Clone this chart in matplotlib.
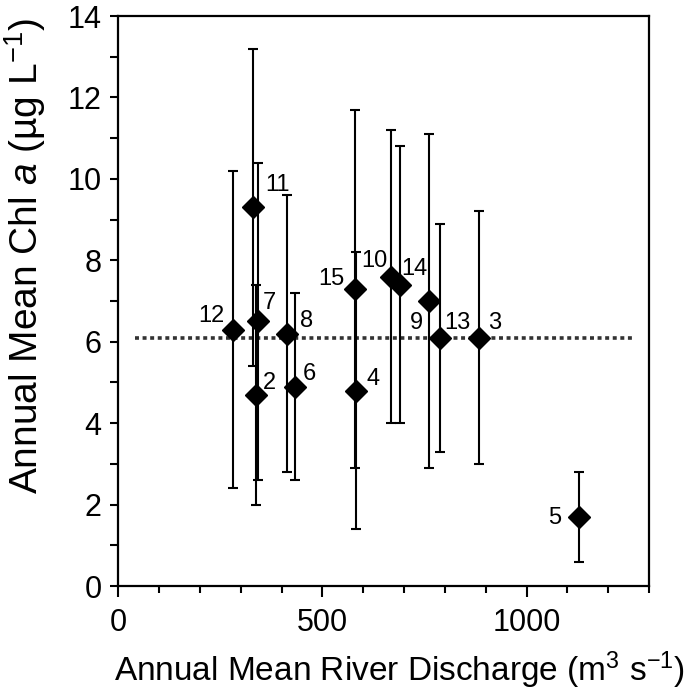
import matplotlib
matplotlib.use("Agg")
import matplotlib.pyplot as plt
from matplotlib.ticker import MultipleLocator

plt.rcParams['font.family'] = ['Liberation Sans', 'DejaVu Sans']
plt.rcParams['mathtext.fontset'] = 'custom'
plt.rcParams['mathtext.rm'] = 'Liberation Sans'
plt.rcParams['mathtext.it'] = 'Liberation Sans:italic'

# river number, discharge (m3/s), mean Chl a and its SD
sites = [2, 3, 4, 5, 6, 7, 8, 9, 10, 11, 12, 13, 14, 15]
discharge = [337, 883, 583, 1128, 432, 342, 413, 761, 669, 330, 281, 789, 689, 579]
chl_mean = [4.7, 6.1, 4.8, 1.7, 4.9, 6.5, 6.2, 7.0, 7.6, 9.3, 6.3, 6.1, 7.4, 7.3]
chl_sd = [2.7, 3.1, 3.4, 1.1, 2.3, 3.9, 3.4, 4.1, 3.6, 3.9, 3.9, 2.8, 3.4, 4.4]

overall_mean = 6.1
mean_line_x = [40, 1265]

# label placement: (dx px, dy px to baseline, ha)
label_pos = {
    2: (7, 6, 'left'), 3: (9, 9, 'left'), 4: (10, 6, 'left'),
    5: (-18, -7, 'right'), 6: (8, 7, 'left'), 7: (5, 12, 'left'),
    8: (13, 7, 'left'), 9: (-6, -28, 'right'), 10: (-4, 10, 'right'),
    11: (12, 16, 'left'), 12: (-9, 8, 'right'), 13: (4, 9, 'left'),
    14: (2, 10, 'left'), 15: (-10, 4, 'right'),
}

fig = plt.figure(figsize=(6.85, 6.94), dpi=100)
ax = fig.add_axes([0.1727, 0.1556, 0.7747, 0.8213])

ax.plot(mean_line_x, [overall_mean, overall_mean], color='#333333',
        linewidth=2.6, linestyle=(0, (1.1, 1.0)), dash_capstyle='butt', zorder=1)

ax.errorbar(discharge, chl_mean, yerr=chl_sd, fmt='none', ecolor='black',
            elinewidth=1.5, capsize=3.5, capthick=1.5, zorder=2)
ax.plot(discharge, chl_mean, linestyle='none', marker='D', markersize=11,
        color='black', zorder=3)

for s, x, y in zip(sites, discharge, chl_mean):
    dx, dy, ha = label_pos[s]
    ax.annotate(str(s), (x, y), xytext=(dx, dy), textcoords='offset pixels',
                ha=ha, va='baseline', fontsize=17)

ax.set_xlim(0, 1300)
ax.set_ylim(0, 14)
ax.xaxis.set_major_locator(MultipleLocator(500))
ax.xaxis.set_minor_locator(MultipleLocator(100))
ax.yaxis.set_major_locator(MultipleLocator(2))
ax.yaxis.set_minor_locator(MultipleLocator(1))
ax.tick_params(which='both', direction='out', width=1.5, labelsize=22, top=False, right=False)
ax.tick_params(axis='x', which='major', length=8, pad=8)
ax.tick_params(axis='x', which='minor', length=5)
ax.tick_params(axis='y', which='both', length=6, pad=6)
for sp in ax.spines.values():
    sp.set_linewidth(1.6)

ax.set_xlabel('Annual Mean River Discharge (m$^{3}$ s$^{-1}$)', fontsize=24, labelpad=8)
ax.set_ylabel('Annual Mean Chl $\\it{a}$ (\u00b5g L$^{-1}$)', fontsize=28, labelpad=14)
ax.xaxis.label.set_x(0.529)
ax.yaxis.label.set_y(0.579)

fig.savefig('out.png', dpi=100)
